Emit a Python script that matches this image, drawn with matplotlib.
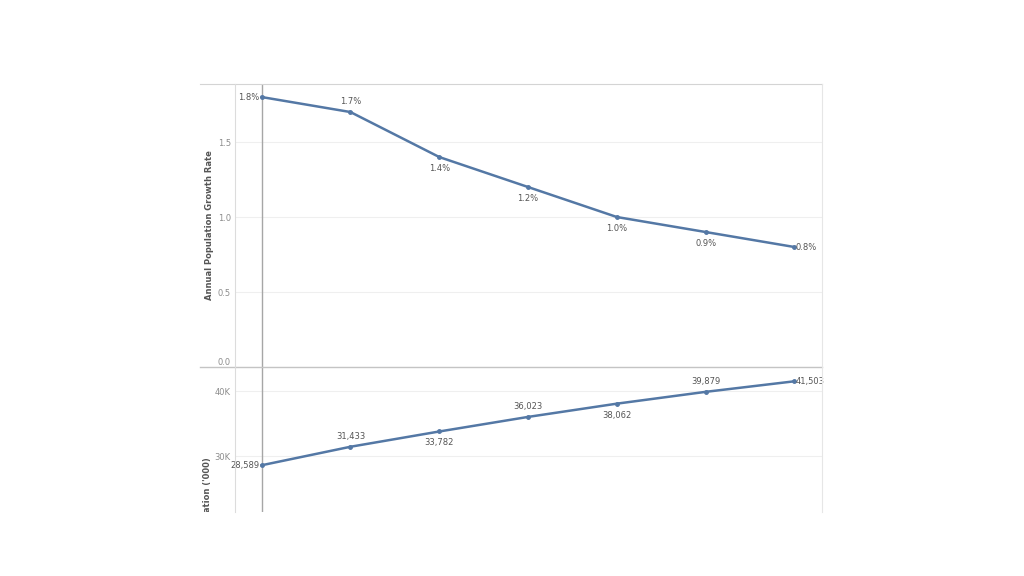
import numpy as np
import matplotlib.pyplot as plt
from matplotlib.lines import Line2D
from matplotlib.transforms import Bbox

# data
growth = [1.8, 1.7, 1.4, 1.2, 1.0, 0.9, 0.8]
growth_lbl = ['1.8%', '1.7%', '1.4%', '1.2%', '1.0%', '0.9%', '0.8%']
pop = [28589, 31433, 33782, 36023, 38062, 39879, 41503]
pop_lbl = ['28,589', '31,433', '33,782', '36,023', '38,062', '39,879', '41,503']
growth_pos = ['left', 'above', 'below', 'below', 'below', 'below', 'right']
pop_pos = ['left', 'above', 'below', 'above', 'below', 'above', 'right']

plt.rcParams['font.family'] = ['DejaVu Sans']
blue = '#5478a5'
txt = '#555555'
tickc = '#8c8c8c'

W, H = 1024, 576
fig = plt.figure(figsize=(W / 100, H / 100), dpi=100)
fig.patch.set_facecolor('white')

def fx(px): return px / W
def fy(py): return 1 - py / H

L, R, T, M, B = 235, 822, 84, 367, 512
ax1 = fig.add_axes([fx(L), fy(M), fx(R - L), fy(T) - fy(M)])
ax2 = fig.add_axes([fx(L), fy(B), fx(R - L), fy(M) - fy(B)])

x = np.arange(len(growth))

def label(ax, xs, ys, labels, pos):
    for xi, yi, s, p in zip(xs, ys, labels, pos):
        if p == 'left':
            ax.annotate(s, (xi, yi), xytext=(-1.5, 0), textcoords='offset points',
                        ha='right', va='center', fontsize=6, color=txt)
        elif p == 'right':
            ax.annotate(s, (xi, yi), xytext=(1, 0), textcoords='offset points',
                        ha='left', va='center', fontsize=6, color=txt)
        elif p == 'above':
            ax.annotate(s, (xi, yi), xytext=(0, 4), textcoords='offset points',
                        ha='center', va='bottom', fontsize=6, color=txt)
        else:
            ax.annotate(s, (xi, yi), xytext=(0, -5), textcoords='offset points',
                        ha='center', va='top', fontsize=6, color=txt)

for ax in (ax1, ax2):
    ax.set_xlim(-0.30, 6.31)
    ax.set_xticks([])
    for s in ax.spines.values():
        s.set_visible(False)
    ax.tick_params(axis='y', length=0, labelsize=6, labelcolor=tickc, pad=3)
    ax.grid(axis='y', color='#efefef', linewidth=0.8)
    ax.set_axisbelow(True)
    ax.axvline(0, color='#a6a6a6', linewidth=1.0, zorder=1)

ax1.plot(x, growth, color=blue, linewidth=1.8, marker='o', markersize=2.5, zorder=3)
ax1.set_ylim(0, 1.887)
ax1.set_yticks([0, 0.5, 1.0, 1.5])
ax1.set_yticklabels(['0.0', '0.5', '1.0', '1.5'])
ax1.get_yticklabels()[0].set_va('bottom')
label(ax1, x, growth, growth_lbl, growth_pos)

ax2.plot(x, pop, color=blue, linewidth=1.8, marker='o', markersize=2.5, zorder=3)
ax2.set_ylim(21400, 43700)
ax2.set_yticks([30000, 40000])
ax2.set_yticklabels(['30K', '40K'])
label(ax2, x, pop, pop_lbl, pop_pos)

# frame lines
lc = '#d4d4d4'
fig.add_artist(Line2D([fx(200), fx(R)], [fy(T), fy(T)], color=lc, linewidth=0.8))
fig.add_artist(Line2D([fx(200), fx(R)], [fy(M), fy(M)], color='#c4c4c4', linewidth=1.0))
fig.add_artist(Line2D([fx(L), fx(L)], [fy(T), fy(B)], color='#dcdcdc', linewidth=0.8))
fig.add_artist(Line2D([fx(R), fx(R)], [fy(T), fy(B)], color='#e6e6e6', linewidth=0.8))

fig.text(fx(209), fy((T + M) / 2), 'Annual Population Growth Rate', rotation=90,
         ha='center', va='center', fontsize=6, color=txt, fontweight='bold')
t = fig.text(fx(208), fy(498), "Population ('000)", rotation=90,
             ha='center', va='center', fontsize=6, color=txt, fontweight='bold')
t.set_clip_box(Bbox([[0, H - B], [W, H]]))
t.set_clip_on(True)

fig.savefig('out.png', dpi=100, facecolor='white')
